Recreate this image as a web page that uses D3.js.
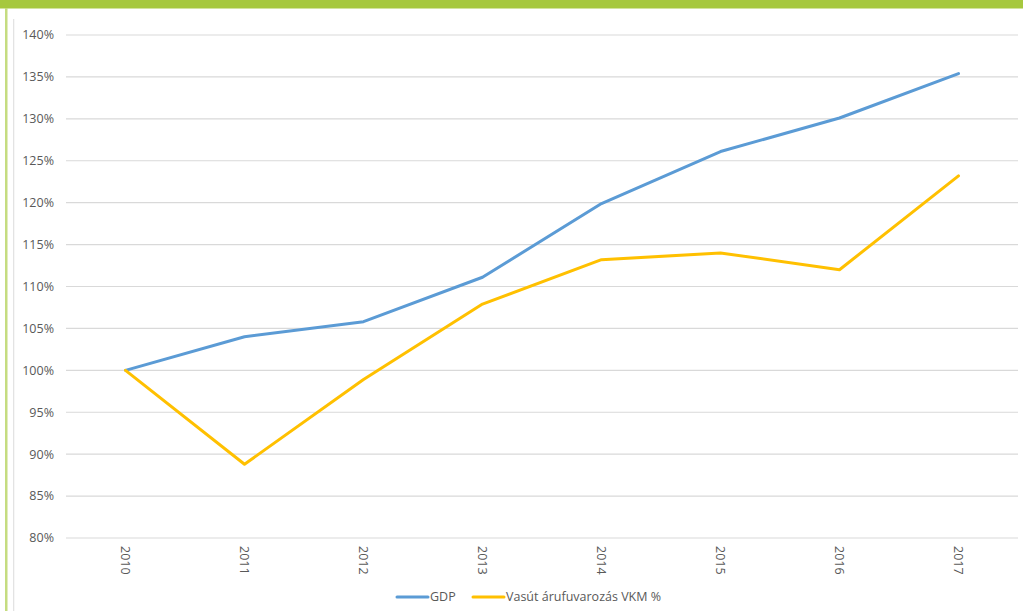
<!DOCTYPE html>
<html><head><meta charset="utf-8">
<script src="https://cdn.jsdelivr.net/npm/d3@7"></script>
<style>body{margin:0;background:#fff;font-family:"Open Sans",sans-serif;}</style>
</head><body>
<svg id="c" width="1023" height="611"></svg>
<script>
const years = ["2010","2011","2012","2013","2014","2015","2016","2017"];
const gdp = [100, 104.0, 105.8, 111.1, 119.9, 126.1, 130.1, 135.4];
const vasut = [100, 88.8, 98.9, 107.9, 113.2, 114.0, 112.0, 123.2];
const yTicks = [80,85,90,95,100,105,110,115,120,125,130,135,140];
const seriesNames = ["GDP","Vasút árufuvarozás VKM %"];
const colors = ["#5B9BD5","#FFC000"];

const svg = d3.select("#c");
svg.append("rect").attr("x",0).attr("y",0).attr("width",1023).attr("height",8.5).attr("fill","#A6C83E");
svg.append("rect").attr("x",5).attr("y",8).attr("width",2.5).attr("height",603).attr("fill","#C5DC80");
svg.append("rect").attr("x",13).attr("y",19).attr("width",1.3).attr("height",592).attr("fill","#E3E3E3");

const x = d3.scaleBand().domain(years).range([66,1018]);
const y = d3.scaleLinear().domain([80,140]).range([538,35]);
const fs = 12.5;

const g = svg.append("g");
g.selectAll("line.grid").data(yTicks).join("line")
 .attr("x1",66).attr("x2",1018).attr("y1",d=>y(d)).attr("y2",d=>y(d))
 .attr("stroke","#D9D9D9").attr("stroke-width",1.2);
g.selectAll("text.yl").data(yTicks).join("text")
 .attr("x",54).attr("y",d=>y(d)).attr("dy","0.35em").attr("text-anchor","end")
 .attr("font-size",fs).attr("fill","#595959").text(d=>d+"%");
g.selectAll("text.xl").data(years).join("text")
 .attr("transform",d=>`translate(${x(d)+x.bandwidth()/2},546) rotate(90)`)
 .attr("dy","0.35em").attr("font-size",fs).attr("fill","#595959").text(d=>d);

const line = d3.line().x((d,i)=>x(years[i])+x.bandwidth()/2).y(d=>y(d));
[gdp,vasut].forEach((s,i)=>{
  g.append("path").attr("d",line(s)).attr("fill","none").attr("stroke",colors[i])
   .attr("stroke-width",3).attr("stroke-linejoin","round").attr("stroke-linecap","round");
});

const legX = [397,473];
seriesNames.forEach((n,i)=>{
  g.append("line").attr("x1",legX[i]).attr("x2",legX[i]+31).attr("y1",597).attr("y2",597)
   .attr("stroke",colors[i]).attr("stroke-width",3).attr("stroke-linecap","round");
  g.append("text").attr("x",legX[i]+33).attr("y",597).attr("dy","0.35em")
   .attr("font-size",fs).attr("fill","#595959").text(n);
});
</script>
</body></html>
